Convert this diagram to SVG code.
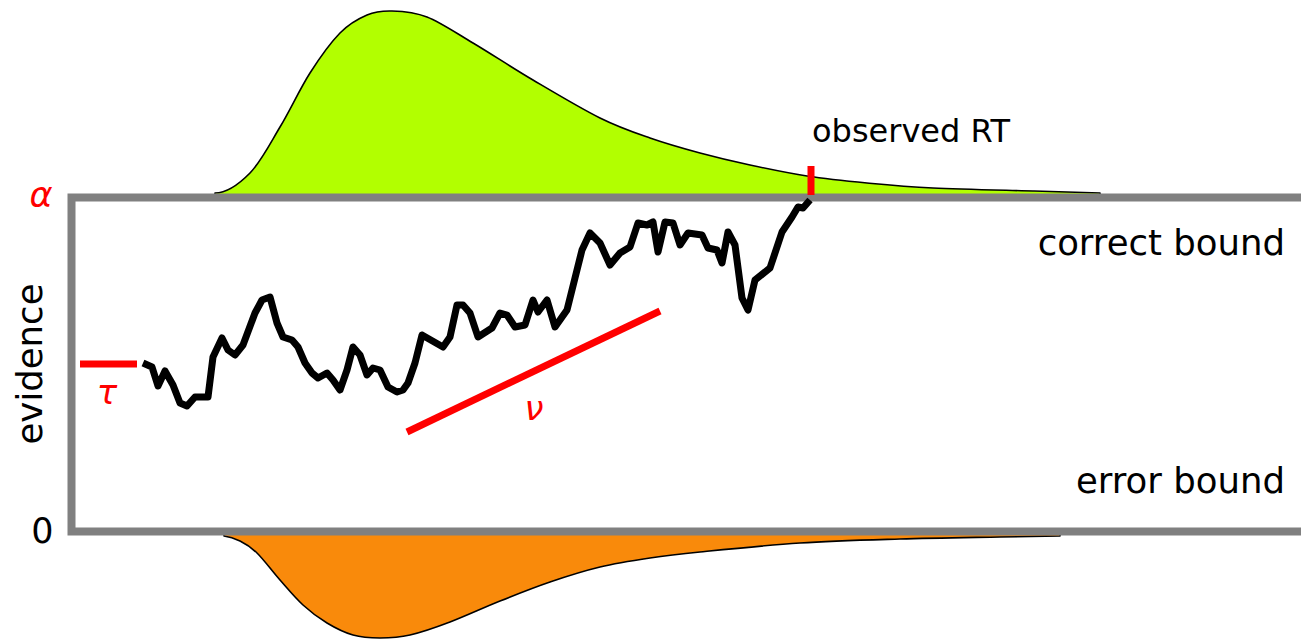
<svg xmlns="http://www.w3.org/2000/svg" width="1301" height="641" viewBox="0 0 1301 641">
<style>
.lbl{font-family:"DejaVu Sans","Liberation Sans",sans-serif;fill:#000}
.greek{font-family:"DejaVu Sans","Liberation Sans",sans-serif;font-style:italic;fill:#ff0000}
.dist{stroke:#000;stroke-width:1.6;stroke-linejoin:round}
.red{stroke:#ff0000;stroke-width:7;fill:none}
</style>
<rect width="1301" height="641" fill="#fff"/>
<g id="correct-distribution">
<path class="dist" fill="#b2ff00" d="M215,193 C226,193 239.2,184 250,173 C260.8,162 270,143.7 280,127 C290,110.3 300,88.7 310,73 C320,57.3 330.5,42.7 340,33 C349.5,23.3 358.3,18.7 367,15 C375.7,11.3 382,10.7 392,11 C402,11.3 413.5,11.7 427,17 C440.5,22.3 455.3,32.5 473,43 C490.7,53.5 511.8,67.5 533,80 C554.2,92.5 580.5,108.3 600,118 C619.5,127.7 633.3,132.2 650,138 C666.7,143.8 683.3,148.5 700,153 C716.7,157.5 732.2,161.2 750,165 C767.8,168.8 787.5,173 807,176 C826.5,179 846,181 867,183 C888,185 905.3,186.7 933,188 C960.7,189.3 1005.2,190.2 1033,191 C1060.8,191.8 1088.8,192.7 1100,193 L1100,198 L215,198 Z"/>
</g>
<g id="error-distribution">
<path class="dist" fill="#f98a0b" d="M224,536 C228,536.5 234.2,538.2 240,541 C245.8,543.8 250.3,546.5 257,553 C263.7,559.5 272.3,571.3 280,580 C287.7,588.7 295.2,597.8 303,605 C310.8,612.2 318.7,618 327,623 C335.3,628 344.2,632.5 353,635 C361.8,637.5 370.5,638 380,638 C389.5,638 398.3,637.7 410,635 C421.7,632.3 435,627.7 450,622 C465,616.3 483.3,607.7 500,601 C516.7,594.3 533.3,587.7 550,582 C566.7,576.3 583.3,571 600,567 C616.7,563 633.3,560.5 650,558 C666.7,555.5 675,554.5 700,552 C725,549.5 766.7,545.2 800,543 C833.3,540.8 866.7,540 900,539 C933.3,538 973.3,537.5 1000,537 C1026.7,536.5 1050,536.2 1060,536 L1060,531 L224,531 Z"/>
</g>
<g id="bounds">
<path d="M1301,197.5 H71.5 V531.5 H1301" fill="none" stroke="#808080" stroke-width="8"/>
</g>
<g id="connectors">
<polyline id="evidence-path" fill="none" stroke="#000" stroke-width="7" stroke-linejoin="round" points="143,363 152,367 158,386 165,371 173,385 180,403 187,406 195,397 208,397 213,357 222,338 228,350 235,355 243,345 255,313 262,300 270,297 277,323 283,337 292,340 298,347 305,363 312,373 318,378 327,373 333,380 340,390 347,370 353,347 360,355 367,375 373,368 380,370 388,387 397,392 403,390 408,383 415,363 422,335 443,347 450,337 457,305 463,305 470,313 478,337 492,328 500,313 507,315 515,327 525,325 533,300 538,312 547,300 555,327 567,310 575,278 582,250 590,233 600,243 610,265 620,253 630,247 638,223 647,225 653,222 658,252 665,222 673,223 680,245 688,233 702,235 708,248 717,250 722,263 728,232 735,245 742,298 748,310 755,280 770,268 782,232 792,217 798,207 803,208 810,200"/>
<line id="tau-line" class="red" x1="80" y1="364" x2="137" y2="364"/>
<line id="nu-line" class="red" x1="407" y1="432" x2="660" y2="311"/>
<line id="rt-tick" class="red" stroke-width="8" x1="811" y1="166" x2="811" y2="195"/>
</g>
<g id="labels">
<text class="lbl" x="812" y="142" font-size="32">observed RT</text>
<text class="lbl" x="1285" y="255" font-size="35.5" text-anchor="end">correct bound</text>
<text class="lbl" x="1285" y="493" font-size="35.5" text-anchor="end">error bound</text>
<text class="lbl" x="42.5" y="543" font-size="35" text-anchor="middle">0</text>
<text class="lbl" font-size="35.5" text-anchor="middle" transform="translate(42,364) rotate(-90)">evidence</text>
<text class="greek" x="41" y="207" font-size="35" text-anchor="middle">α</text>
<text class="greek" x="107" y="404" font-size="34" text-anchor="middle">τ</text>
<text class="greek" x="534" y="420" font-size="34" text-anchor="middle">ν</text>
</g>
</svg>
